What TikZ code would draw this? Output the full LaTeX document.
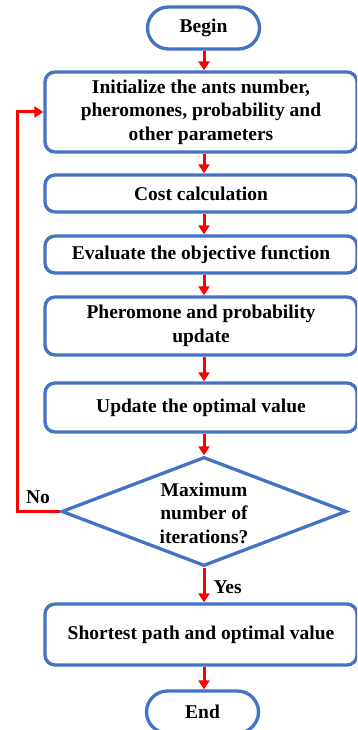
\documentclass[tikz,border=0pt]{standalone}
\usepackage{fontspec}
\setmainfont{Liberation Serif}
\usetikzlibrary{arrows.meta,shapes.geometric}
\definecolor{boxblue}{HTML}{4472C4}
\definecolor{arrred}{HTML}{FF0000}
\begin{document}
\begin{tikzpicture}[x=1pt,y=-1pt,
  txt/.style={font=\fontsize{19.5}{23.5}\selectfont\bfseries,align=center,inner sep=0pt},
  box/.style={txt,draw=boxblue,line width=3.3pt,rounded corners=10pt,minimum width=312pt},
  term/.style={txt,draw=boxblue,line width=3.3pt,rounded corners=21pt,minimum width=112pt,minimum height=42pt},
  dia/.style={draw=boxblue,line width=3.3pt,diamond,minimum width=285pt,minimum height=109pt,inner sep=0pt},
  flow/.style={draw=arrred,line width=3pt,-{Triangle[length=9pt,width=11pt]}},
  lbl/.style={txt}]
\clip (0,0) rectangle (357,730);
\coordinate (ax) at (204,0);
\node[term] (begin) at (203.5,28) {Begin};
\node[box,minimum height=80pt] (init) at (201,112) {Initialize the ants number,\\pheromones, probability and\\other parameters};
\node[box,minimum height=37pt] (cost) at (201,193.5) {Cost calculation};
\node[box,minimum height=37pt] (eval) at (201,254.5) {Evaluate the objective function};
\node[box,minimum height=58pt] (pher) at (201,326) {Pheromone and probability\\update};
\node[box,minimum height=49pt] (upd) at (201,407.5) {Update the optimal value};
\node[dia] (dec) at (204,511.5) {};
\node[txt] (dectxt) at (204,513) {Maximum\\number of\\iterations?};
\node[box,minimum height=61pt] (short) at (201,634.5) {Shortest path and optimal value};
\node[term] (end) at (202.5,712) {End};
\coordinate (fb) at (17,511.5);
\draw[flow] (begin.south -| ax) -- (init.north -| ax);
\draw[flow] (init.south -| ax) -- (cost.north -| ax);
\draw[flow] (cost.south -| ax) -- (eval.north -| ax);
\draw[flow] (eval.south -| ax) -- (pher.north -| ax);
\draw[flow] (pher.south -| ax) -- (upd.north -| ax);
\draw[flow] (upd.south -| ax) -- (dec.north);
\draw[flow] (dec.south) -- (short.north -| ax) node[lbl,pos=0.55,anchor=west,xshift=8pt] (yes) {Yes};
\draw[flow] (short.south -| ax) -- (end.north -| ax);
\draw[flow] (dec.west) -- (fb) |- (init.west);
\node[lbl] (no) at (38,497) {No};
\end{tikzpicture}
\end{document}
